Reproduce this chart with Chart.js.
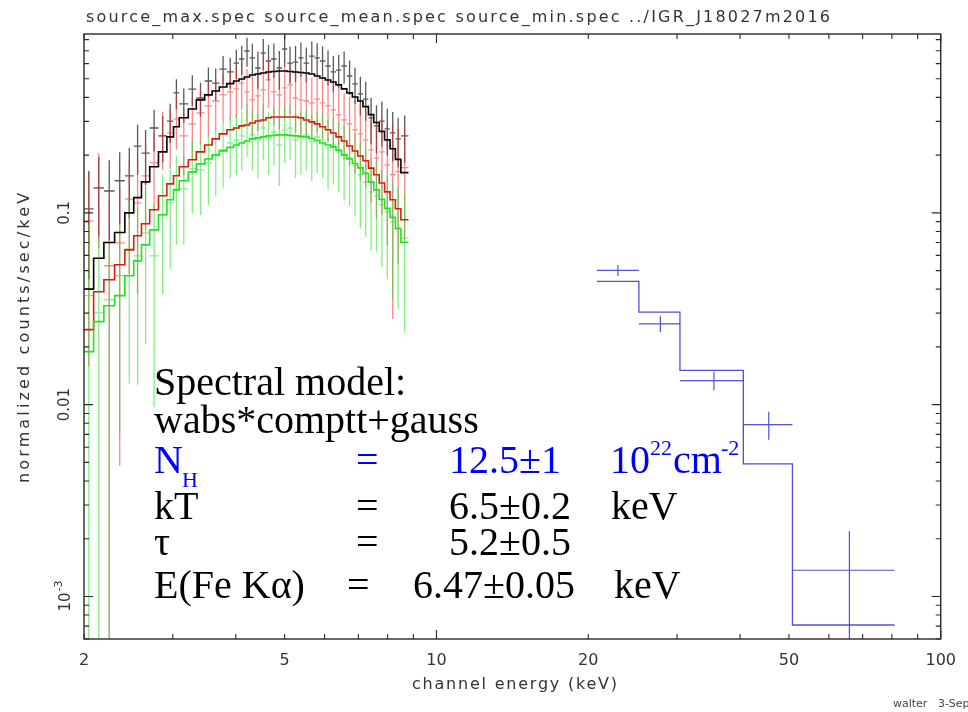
<!DOCTYPE html>
<html><head><meta charset="utf-8">
<script src="https://cdn.jsdelivr.net/npm/chart.js@4.4.1/dist/chart.umd.min.js"></script>
<style>html,body{margin:0;padding:0;background:#fff;}canvas{display:block;}</style>
</head><body>
<canvas id="c" width="968" height="712"></canvas>
<script>
// ---------- DATA ----------
const binEdges = [2.00, 2.09, 2.19, 2.30, 2.41, 2.51, 2.60, 2.70, 2.81, 2.92, 3.01, 3.09, 3.22, 3.34, 3.47, 3.59, 3.71, 3.84, 3.96, 4.06, 4.16, 4.26, 4.37, 4.48, 4.59, 4.70, 4.82, 4.94, 5.06, 5.19, 5.32, 5.45, 5.59, 5.73, 5.87, 6.02, 6.17, 6.32, 6.48, 6.64, 6.81, 6.98, 7.15, 7.33, 7.51, 7.70, 7.89, 8.09, 8.29, 8.50, 8.80];

const maxModel = [0.040, 0.058, 0.070, 0.079, 0.100, 0.120, 0.145, 0.174, 0.208, 0.249, 0.281, 0.313, 0.348, 0.388, 0.412, 0.432, 0.453, 0.472, 0.487, 0.499, 0.511, 0.523, 0.530, 0.536, 0.542, 0.546, 0.549, 0.549, 0.546, 0.542, 0.539, 0.536, 0.530, 0.517, 0.505, 0.493, 0.481, 0.465, 0.443, 0.422, 0.402, 0.383, 0.358, 0.325, 0.296, 0.266, 0.240, 0.216, 0.190, 0.162];
const meanModel = [0.0246, 0.0388, 0.0448, 0.0536, 0.0641, 0.0759, 0.0877, 0.1037, 0.1227, 0.1416, 0.156, 0.174, 0.189, 0.208, 0.226, 0.243, 0.258, 0.271, 0.277, 0.284, 0.287, 0.294, 0.301, 0.305, 0.313, 0.316, 0.316, 0.316, 0.316, 0.316, 0.313, 0.305, 0.298, 0.291, 0.281, 0.271, 0.261, 0.249, 0.237, 0.223, 0.210, 0.198, 0.187, 0.171, 0.158, 0.143, 0.1286, 0.117, 0.105, 0.092];
const minModel = [0.0189, 0.0271, 0.0328, 0.0370, 0.0470, 0.0562, 0.0681, 0.0815, 0.0977, 0.117, 0.1318, 0.147, 0.1636, 0.180, 0.191, 0.2005, 0.2104, 0.2194, 0.226, 0.2315, 0.237, 0.243, 0.246, 0.249, 0.252, 0.2534, 0.255, 0.255, 0.2534, 0.252, 0.2503, 0.249, 0.2443, 0.2385, 0.2315, 0.226, 0.2208, 0.2117, 0.2005, 0.191, 0.181, 0.1716, 0.1606, 0.145, 0.1318, 0.1175, 0.1055, 0.0947, 0.0826, 0.0702];

const maxData = [0.105, 0.135, 0.130, 0.147, 0.156, 0.223, 0.205, 0.277, 0.252, 0.301, 0.422, 0.370, 0.442, 0.397, 0.487, 0.475, 0.562, 0.543, 0.604, 0.634, 0.698, 0.642, 0.569, 0.681, 0.619, 0.634, 0.569, 0.715, 0.604, 0.611, 0.642, 0.604, 0.657, 0.642, 0.619, 0.583, 0.543, 0.555, 0.583, 0.517, 0.470, 0.417, 0.392, 0.313, 0.284, 0.301, 0.274, 0.261, 0.243, 0.252];
const maxErr = [0.060, 0.060, 0.058, 0.060, 0.062, 0.065, 0.065, 0.068, 0.068, 0.070, 0.075, 0.075, 0.080, 0.080, 0.085, 0.090, 0.095, 0.100, 0.105, 0.110, 0.120, 0.120, 0.125, 0.125, 0.130, 0.130, 0.130, 0.135, 0.130, 0.130, 0.130, 0.125, 0.125, 0.125, 0.120, 0.120, 0.115, 0.110, 0.110, 0.105, 0.100, 0.095, 0.090, 0.085, 0.080, 0.080, 0.075, 0.075, 0.070, 0.070];

const meanData = [0.0908, 0.135, 0.053, 0.0698, 0.118, 0.1128, 0.156, 0.182, 0.252, 0.261, 0.309, 0.252, 0.291, 0.332, 0.361, 0.383, 0.412, 0.427, 0.4425, 0.475, 0.427, 0.388, 0.407, 0.4375, 0.493, 0.427, 0.412, 0.448, 0.4645, 0.397, 0.388, 0.383, 0.374, 0.392, 0.374, 0.361, 0.344, 0.324, 0.305, 0.291, 0.271, 0.258, 0.240, 0.213, 0.193, 0.208, 0.178, 0.158, 0.164, 0.172];
const meanErr = [0.075, 0.070, 0.065, 0.065, 0.070, 0.075, 0.075, 0.080, 0.085, 0.090, 0.095, 0.095, 0.100, 0.105, 0.110, 0.115, 0.120, 0.125, 0.130, 0.130, 0.135, 0.135, 0.140, 0.140, 0.140, 0.140, 0.140, 0.140, 0.140, 0.135, 0.135, 0.135, 0.130, 0.130, 0.130, 0.125, 0.125, 0.120, 0.115, 0.115, 0.110, 0.110, 0.105, 0.100, 0.100, 0.110, 0.110, 0.130, 0.110, 0.100];

const minData = [0.0370, 0.0301, 0.0352, 0.047, 0.0649, 0.0597, 0.0787, 0.0597, 0.0976, 0.1128, 0.1334, 0.1334, 0.1696, 0.1675, 0.182, 0.198, 0.213, 0.2315, 0.240, 0.252, 0.284, 0.255, 0.240, 0.277, 0.246, 0.264, 0.226, 0.271, 0.277, 0.240, 0.246, 0.255, 0.2344, 0.249, 0.240, 0.2182, 0.226, 0.213, 0.2005, 0.1934, 0.1758, 0.158, 0.145, 0.1287, 0.1227, 0.110, 0.1012, 0.0898, 0.0835, 0.0741];
const minErr = [0.050, 0.045, 0.036, 0.040, 0.052, 0.047, 0.058, 0.050, 0.060, 0.062, 0.065, 0.065, 0.070, 0.070, 0.072, 0.075, 0.078, 0.080, 0.082, 0.085, 0.088, 0.088, 0.088, 0.088, 0.088, 0.088, 0.088, 0.088, 0.088, 0.088, 0.088, 0.088, 0.088, 0.088, 0.088, 0.085, 0.085, 0.085, 0.085, 0.085, 0.080, 0.075, 0.070, 0.065, 0.060, 0.058, 0.056, 0.054, 0.052, 0.050];

const isgriEdges = [20.8, 25.2, 30.4, 40.6, 50.8, 81.0];
const isgriEnergy = [22.9, 27.8, 35.5, 45.6, 65.9];
const isgriData = [0.0501, 0.0264, 0.01334, 0.00787, 0.00137];
const isgriErr = [0.0033, 0.0025, 0.0015, 0.0013, 0.00082];
const isgriModel = [0.0439, 0.0304, 0.0151, 0.00491, 0.00071];

const xTickValues = [2, 5, 10, 20, 50, 100];
const xTickLabels = ['2', '5', '10', '20', '50', '100'];
const yTickValues = [0.1, 0.01, 0.001];
const yTickLabels = ['0.1', '0.01', '10^-3'];

const plotTitle = 'source_max.spec source_mean.spec source_min.spec ../IGR_J18027m2016';
const xTitle = 'channel energy (keV)';
const yTitle = 'normalized counts/sec/keV';

// ---------- helpers to build library datasets ----------
function stepPoints(edges, vals) {
  const pts = vals.map((v, i) => ({x: edges[i], y: v}));
  pts.push({x: edges[edges.length - 1], y: vals[vals.length - 1]});
  return pts;
}
function crossPoints(edges, vals, errs, centers) {
  return vals.map((v, i) => ({
    x: centers ? centers[i] : Math.sqrt(edges[i] * edges[i + 1]),
    y: v, xMin: edges[i], xMax: edges[i + 1], err: errs[i]
  }));
}
function errSet(label, pts, color, w) {
  return {label, data: pts, errorBars: true, barColor: color, barWidth: w,
    showLine: false, pointRadius: 0, pointHoverRadius: 0, borderWidth: 0, order: 10};
}
function modelSet(label, pts, color, w, order) {
  return {label, data: pts, stepped: 'before', borderColor: color, borderWidth: w,
    pointRadius: 0, pointHoverRadius: 0, fill: false, tension: 0, order};
}

const datasets = [
  errSet('source_max data', crossPoints(binEdges, maxData, maxErr), 'rgba(25,25,25,0.72)', 1.3),
  errSet('source_mean data', crossPoints(binEdges, meanData, meanErr), 'rgba(240,40,40,0.55)', 1.3),
  errSet('source_min data', crossPoints(binEdges, minData, minErr), 'rgba(30,225,30,0.55)', 1.3),
  errSet('ISGRI data', crossPoints(isgriEdges, isgriData, isgriErr, isgriEnergy), 'rgba(50,50,215,0.85)', 1.2),
  modelSet('source_max model', stepPoints(binEdges, maxModel), '#000000', 1.6, 3),
  modelSet('source_mean model', stepPoints(binEdges, meanModel), '#dd1a10', 1.6, 2),
  modelSet('source_min model', stepPoints(binEdges, minModel), '#22e022', 1.6, 1),
  modelSet('ISGRI model', stepPoints(isgriEdges, isgriModel), 'rgba(50,50,215,0.85)', 1.3, 0)
];

// ---------- plugins ----------
const bgPlugin = {
  id: 'bg',
  beforeDraw(chart) {
    const c = chart.ctx; c.save(); c.fillStyle = '#fff';
    c.fillRect(0, 0, chart.width, chart.height); c.restore();
  }
};

const errorBarPlugin = {
  id: 'errbars',
  beforeDatasetsDraw(chart) {
    const {ctx, chartArea: a} = chart;
    const xs = chart.scales.x, ys = chart.scales.y;
    ctx.save();
    ctx.beginPath(); ctx.rect(a.left, a.top, a.right - a.left, a.bottom - a.top); ctx.clip();
    chart.data.datasets.forEach(ds => {
      if (!ds.errorBars) return;
      ctx.strokeStyle = ds.barColor; ctx.lineWidth = ds.barWidth;
      ds.data.forEach(p => {
        const px = xs.getPixelForValue(p.x), py = ys.getPixelForValue(p.y);
        const lo = p.y - p.err;
        const pLo = lo > 0 ? ys.getPixelForValue(lo) : a.bottom + 20;
        ctx.beginPath();
        ctx.moveTo(xs.getPixelForValue(p.xMin), py);
        ctx.lineTo(xs.getPixelForValue(p.xMax), py);
        ctx.moveTo(px, ys.getPixelForValue(p.y + p.err));
        ctx.lineTo(px, pLo);
        ctx.stroke();
      });
    });
    ctx.restore();
  }
};

function spacedText(ctx, str, x, y, width) {
  ctx.letterSpacing = '0px';
  const n = [...str].length;
  if (width && n > 1) {
    const w = ctx.measureText(str).width;
    ctx.letterSpacing = ((width - w) / (n - 1)).toFixed(2) + 'px';
  }
  ctx.fillText(str, x, y);
  ctx.letterSpacing = '0px';
}

const framePlugin = {
  id: 'frame',
  afterDatasetsDraw(chart) {
    const {ctx, chartArea: a} = chart;
    const xs = chart.scales.x, ys = chart.scales.y;
    ctx.save();
    ctx.strokeStyle = '#2a2a2a'; ctx.lineWidth = 1.4;
    ctx.strokeRect(a.left, a.top, a.right - a.left, a.bottom - a.top);
    ctx.lineWidth = 1.1;
    ctx.beginPath();
    for (let d = 1; d <= 100; d *= 10) {
      for (let k = 1; k <= 9; k++) {
        const v = k * d;
        if (v < xs.min - 1e-9 || v > xs.max + 1e-9) continue;
        const px = xs.getPixelForValue(v);
        const len = k === 1 ? 9 : 5;
        ctx.moveTo(px, a.bottom); ctx.lineTo(px, a.bottom - len);
        ctx.moveTo(px, a.top); ctx.lineTo(px, a.top + len);
      }
    }
    for (let e = -4; e <= 0; e++) {
      for (let k = 1; k <= 9; k++) {
        const v = k * Math.pow(10, e);
        if (v < ys.min || v > ys.max) continue;
        const py = ys.getPixelForValue(v);
        const len = k === 1 ? 9 : 5;
        ctx.moveTo(a.left, py); ctx.lineTo(a.left + len, py);
        ctx.moveTo(a.right, py); ctx.lineTo(a.right - len, py);
      }
    }
    ctx.stroke();
    ctx.restore();
  },
  afterDraw(chart) {
    const {ctx} = chart;
    const ys = chart.scales.y;
    ctx.save();
    ctx.fillStyle = '#333';
    ctx.textBaseline = 'middle'; ctx.textAlign = 'left';
    ctx.font = '16px "DejaVu Sans"';
    spacedText(ctx, plotTitle, 86, 18, 744);
    spacedText(ctx, xTitle, 412, 685, 205);
    ctx.save();
    ctx.translate(25, 338); ctx.rotate(-Math.PI / 2);
    spacedText(ctx, yTitle, -145, 0, 290);
    ctx.restore();
    yTickValues.forEach((v, i) => {
      const py = ys.getPixelForValue(v);
      const lab = yTickLabels[i];
      ctx.save(); ctx.translate(64, py); ctx.rotate(-Math.PI / 2);
      ctx.font = '15px "DejaVu Sans"';
      if (lab.includes('^')) {
        const [b, ex] = lab.split('^');
        const wb = ctx.measureText(b).width;
        ctx.font = '11px "DejaVu Sans"';
        const we = ctx.measureText(ex).width;
        const x0 = -(wb + we) / 2;
        ctx.font = '15px "DejaVu Sans"';
        ctx.fillText(b, x0, 2);
        ctx.font = '11px "DejaVu Sans"';
        ctx.fillText(ex, x0 + wb + 1, -5);
      } else {
        ctx.textAlign = 'center';
        ctx.fillText(lab, 0, 1);
        ctx.textAlign = 'left';
      }
      ctx.restore();
    });
    ctx.font = '11px "DejaVu Sans"'; ctx.fillStyle = '#444';
    ctx.fillText('walter   3-Sep-2016', 893, 704);

    ctx.textBaseline = 'alphabetic';
    const big = '40px "Liberation Serif"', small = '22px "Liberation Serif"';
    ctx.font = big; ctx.fillStyle = '#000';
    ctx.fillText('Spectral model:', 154, 395);
    ctx.fillText('wabs*comptt+gauss', 154, 433);
    ctx.fillStyle = '#0000ff';
    ctx.fillText('N', 154, 473);
    ctx.font = small; ctx.fillText('H', 182, 487);
    ctx.font = big;
    ctx.fillText('=', 356, 473);
    ctx.fillText('12.5\u00b11', 449, 473);
    ctx.fillText('10', 610, 473);
    ctx.font = small; ctx.fillText('22', 650, 455);
    ctx.font = big; ctx.fillText('cm', 673, 473);
    ctx.font = small; ctx.fillText('-2', 721, 455);
    ctx.font = big; ctx.fillStyle = '#000';
    ctx.fillText('kT', 154, 519);
    ctx.fillText('=', 356, 519);
    ctx.fillText('6.5\u00b10.2', 449, 519);
    ctx.fillText('keV', 611, 519);
    ctx.fillText('\u03c4', 154, 555);
    ctx.fillText('=', 356, 555);
    ctx.fillText('5.2\u00b10.5', 449, 555);
    ctx.fillText('E(Fe K\u03b1)', 154, 598);
    ctx.fillText('=', 347, 598);
    ctx.fillText('6.47\u00b10.05', 413, 598);
    ctx.fillText('keV', 614, 598);
    ctx.restore();
  }
};

new Chart(document.getElementById('c'), {
  type: 'line',
  data: {datasets},
  options: {
    responsive: false, animation: false, devicePixelRatio: 1,
    layout: {padding: {top: 34, right: 22, left: 0, bottom: 0}},
    plugins: {legend: {display: false}, tooltip: {enabled: false}, title: {display: false}},
    scales: {
      x: {
        type: 'logarithmic', position: 'bottom', min: 2, max: 100,
        afterBuildTicks: s => { s.ticks = xTickValues.map(v => ({value: v})); },
        ticks: {autoSkip: false, maxRotation: 0, minRotation: 0, padding: 12, color: '#333',
          font: {family: 'DejaVu Sans', size: 16},
          callback: (v, i) => xTickLabels[i]},
        grid: {display: false, drawTicks: false},
        border: {display: false},
        afterFit: s => { s.height = 73; }
      },
      y: {
        type: 'logarithmic', position: 'left', min: 0.000604, max: 0.856,
        ticks: {display: false},
        grid: {display: false, drawTicks: false},
        border: {display: false},
        afterFit: s => { s.width = 84; }
      }
    }
  },
  plugins: [bgPlugin, errorBarPlugin, framePlugin]
});
</script>
</body></html>
